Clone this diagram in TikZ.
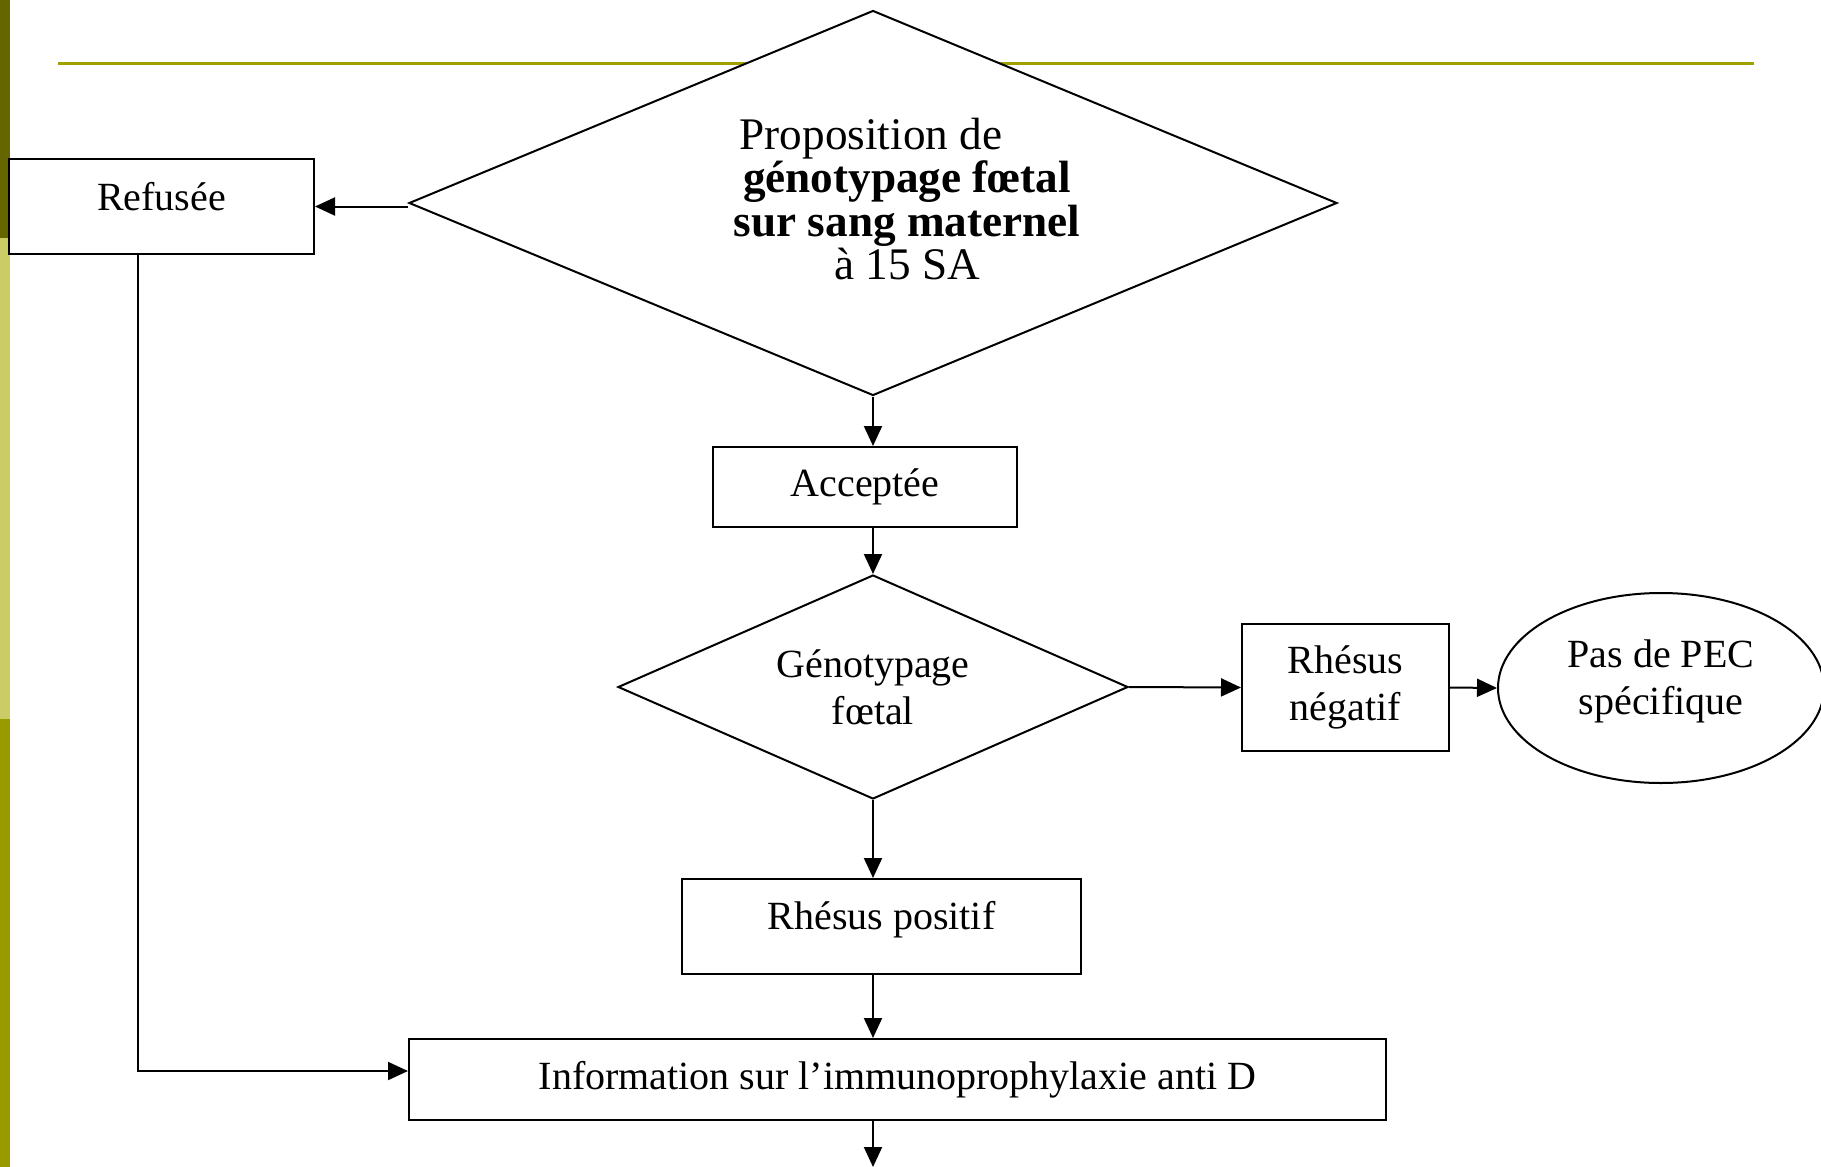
\documentclass[tikz,border=0pt]{standalone}
\usepackage{fontspec}
\setmainfont{Liberation Serif}
\usepackage{xcolor}
\usetikzlibrary{shapes.geometric,arrows.meta}
\definecolor{barfonce}{HTML}{666600}
\definecolor{barpale}{HTML}{CCCC66}
\definecolor{barolive}{HTML}{999900}
\definecolor{filet}{HTML}{A0A000}

\begin{document}
\begin{tikzpicture}[x=0.5pt,y=-0.5pt,
        boite/.style={draw, line width=1pt, inner sep=0pt, align=center},
        losange/.style={draw, diamond, line width=1pt, fill=white, inner sep=0pt, align=center},
        fleche/.style={line width=1pt, -{Triangle[length=10pt,width=9pt]}},
        font=\fontsize{20}{23.5}\selectfont]
        \useasboundingbox (0,0) rectangle (1821,1167);
        % bandeau de la diapo
        \fill [barfonce] (0,0) rectangle (10,238);
        \fill [barpale] (0,238) rectangle (10,719);
        \fill [barolive] (0,719) rectangle (10,1167);
        \draw [filet, line width=1.5pt] (58,63) -- (1754,63);

        \node [losange, minimum width=464pt, minimum height=192.5pt] (propo) at (873,203) {};
        \node [align=center, font=\fontsize{22.6}{21.8}\selectfont] (propotxt) at (907,199) {Proposition de\rule{36pt}{0pt}\\ \textbf{génotypage fœtal}\\ \textbf{sur sang maternel}\\ à 15 SA};
        \node [boite, minimum width=152.5pt, minimum height=47.5pt, text depth=10.5pt] (refusee) at (161.5,206.5) {Refusée};
        \node [boite, minimum width=152pt, minimum height=40pt] (acceptee) at (865,487) {Acceptée};
        \node [losange, shape aspect=2.28, minimum width=255pt, minimum height=112pt] (geno) at (873,687) {Génotypage\\ fœtal};
        \node [boite, minimum width=103.5pt, minimum height=63.5pt] (rhneg) at (1345.5,687.5) {Rhésus\\ négatif};
        \node [draw, ellipse, line width=1pt, inner sep=0pt, align=center, minimum width=163pt, minimum height=95pt, text depth=11pt] (pec) at (1661,688) {Pas de PEC\\ spécifique};
        \node [boite, minimum width=199.5pt, minimum height=47.5pt, text depth=11pt] (rhpos) at (881.5,926.5) {Rhésus positif};
        \node [boite, minimum width=488.5pt, minimum height=40.5pt] (info) at (897.5,1079.5) {Information sur l’immunoprophylaxie anti D};
        \coordinate (fin) at (873,1167);

        \draw [fleche] (propo.west |- refusee.east) -- (refusee.east);
        \draw [fleche] (propo.south) -- (propo.south |- acceptee.north);
        \draw [fleche] (geno.north |- acceptee.south) -- (geno.north);
        \draw [fleche] (geno.east) -- (rhneg.west);
        \draw [fleche] (rhneg.east) -- (pec.west);
        \draw [fleche] (geno.south) -- (geno.south |- rhpos.north);
        \draw [fleche] (geno.south |- rhpos.south) -- (geno.south |- info.north);
        \draw [fleche] ([xshift=-11.75pt]refusee.south) |- ([yshift=4.25pt]info.west);
        \draw [fleche] (geno.south |- info.south) -- (fin);
    \end{tikzpicture}
\end{document}
